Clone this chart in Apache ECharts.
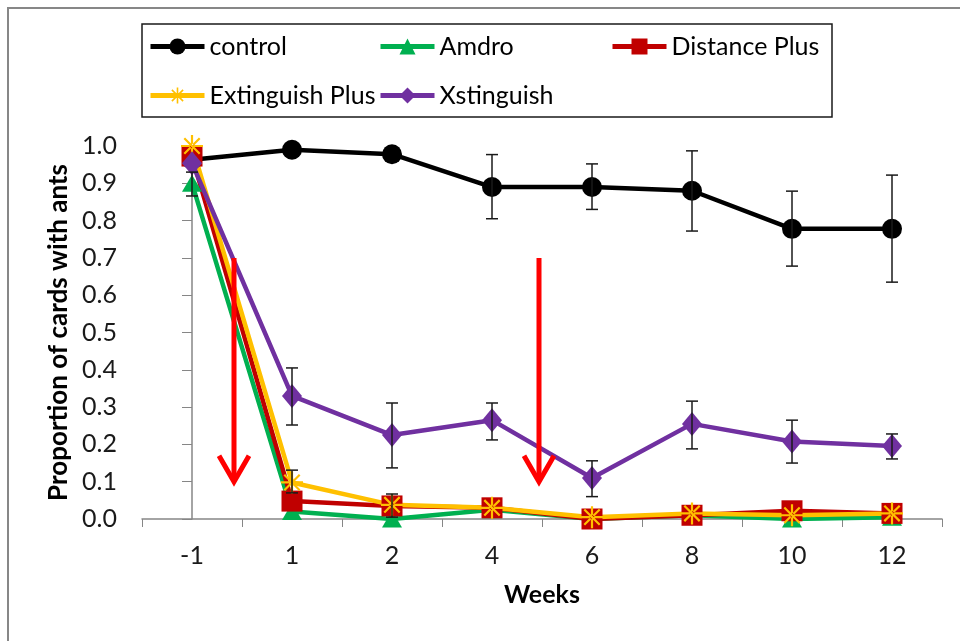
<!DOCTYPE html>
<html>
<head>
<meta charset="utf-8">
<script src="https://cdn.jsdelivr.net/npm/echarts@6/dist/echarts.min.js"></script>
<style>
html, body { margin: 0; padding: 0; background: #fff; }
#chart { width: 960px; height: 641px; }
</style>
</head>
<body>
<div id="chart"></div>
<script>
// weeks after treatment (categories)
var weeks = ['-1', '1', '2', '4', '6', '8', '10', '12'];

// proportion of cards with ants
var control = [0.963, 0.99, 0.978, 0.89, 0.89, 0.88, 0.778, 0.778];
var amdro = [0.90, 0.02, 0.0, 0.025, 0.0, 0.01, 0.0, 0.005];
var distancePlus = [0.973, 0.048, 0.035, 0.03, 0.0, 0.01, 0.022, 0.015];
var extinguishPlus = [1.0, 0.098, 0.038, 0.03, 0.005, 0.015, 0.01, 0.015];
var xstinguish = [0.954, 0.33, 0.225, 0.265, 0.11, 0.255, 0.208, 0.196];

// error bars: [category index, low, high]
var controlErr = [[3, 0.805, 0.977], [4, 0.83, 0.952], [5, 0.772, 0.987], [6, 0.678, 0.879], [7, 0.635, 0.922]];
var xstinguishErr = [[1, 0.252, 0.405], [2, 0.137, 0.311], [3, 0.212, 0.311], [4, 0.06, 0.156], [5, 0.188, 0.316], [6, 0.15, 0.265], [7, 0.161, 0.228]];
var amdroErr = [[0, 0.866, 0.93]];
var extinguishErr = [[1, 0.07, 0.131], [2, 0.005, 0.067]];

// treatment arrows: [x position in category units, top, tip]
var arrows = [[0.42, 0.70, 0.10], [3.47, 0.70, 0.10]];

var FONT = 'Lato';
var asterisk = 'path://M-1,-10L1,-10L1,10L-1,10Z M-10,-1L10,-1L10,1L-10,1Z ' +
    'M-6.3,-7.7L7.7,6.3L6.3,7.7L-7.7,-6.3Z M-6.3,7.7L7.7,-6.3L6.3,-7.7L-7.7,6.3Z';

function errorBar(params, api) {
    var x = api.value(0);
    var lo = api.coord([x, api.value(1)]);
    var hi = api.coord([x, api.value(2)]);
    var w = 6;
    var style = { stroke: '#1a1a1a', lineWidth: 1.5 };
    return {
        type: 'group',
        children: [
            { type: 'line', shape: { x1: hi[0], y1: hi[1], x2: lo[0], y2: lo[1] }, style: style },
            { type: 'line', shape: { x1: hi[0] - w, y1: hi[1], x2: hi[0] + w, y2: hi[1] }, style: style },
            { type: 'line', shape: { x1: lo[0] - w, y1: lo[1], x2: lo[0] + w, y2: lo[1] }, style: style }
        ]
    };
}

function arrow(params, api) {
    var top = api.coord([api.value(0), api.value(1)]);
    var tip = api.coord([api.value(0), api.value(2)]);
    return {
        type: 'group',
        children: [
            {
                type: 'line',
                shape: { x1: top[0], y1: top[1], x2: tip[0], y2: tip[1] - 4 },
                style: { stroke: '#ff0000', lineWidth: 5 }
            },
            {
                type: 'polyline',
                shape: { points: [[tip[0] - 15, tip[1] - 26], [tip[0], tip[1]], [tip[0] + 15, tip[1] - 26]] },
                style: { stroke: '#ff0000', lineWidth: 5, fill: null, lineJoin: 'miter' }
            }
        ]
    };
}

function lineSeries(name, data, color, symbol, size) {
    return {
        name: name,
        type: 'line',
        data: data,
        symbol: symbol,
        symbolSize: size,
        showAllSymbol: true,
        lineStyle: { color: color, width: 4.5 },
        itemStyle: { color: color },
        z: 3
    };
}

function errSeries(data) {
    return {
        type: 'custom',
        renderItem: errorBar,
        data: data,
        encode: { x: 0, y: [1, 2] },
        silent: true,
        z: 4
    };
}

function legendAt(name, left, top) {
    return {
        data: [name],
        left: left,
        top: top,
        padding: 0,
        itemWidth: 54,
        itemHeight: 20,
        lineStyle: { width: 5 },
        textStyle: { fontFamily: FONT, fontSize: 25, color: '#000', padding: [0, 0, 0, 0] }
    };
}

var chart = echarts.init(document.getElementById('chart'));

var option = {
    backgroundColor: '#fff',
    animation: false,
    graphic: [
        { type: 'rect', z: -10, shape: { x: 8, y: 8, width: 1000, height: 1000 }, style: { fill: null, stroke: '#878787', lineWidth: 2 } },
        { type: 'rect', z: -10, shape: { x: 142, y: 24, width: 690, height: 93 }, style: { fill: null, stroke: '#1a1a1a', lineWidth: 1.5 } }
    ],
    legend: [
        legendAt('control', 148, 34),
        legendAt('Amdro', 378, 34),
        legendAt('Distance Plus', 610, 34),
        legendAt('Extinguish Plus', 148, 83),
        legendAt('Xstinguish', 378, 83)
    ],
    grid: { left: 142, right: 18, top: 146, bottom: 122 },
    xAxis: [
        {
            type: 'category',
            data: weeks,
            boundaryGap: true,
            name: 'Weeks',
            nameLocation: 'middle',
            nameGap: 63,
            nameTextStyle: { fontFamily: FONT, fontSize: 25, fontWeight: 'bold', color: '#000' },
            axisLine: { lineStyle: { color: '#868686', width: 1.5 } },
            axisTick: { show: true, length: 8, lineStyle: { color: '#868686' } },
            axisLabel: { margin: 24, fontFamily: FONT, fontSize: 25, color: '#1a1a1a' },
            splitLine: { show: false }
        },
        {
            type: 'value',
            min: -0.5,
            max: 7.5,
            show: false
        }
    ],
    yAxis: {
        type: 'value',
        min: 0,
        max: 1,
        interval: 0.1,
        name: 'Proportion of cards with ants',
        nameLocation: 'middle',
        nameGap: 66,
        nameTextStyle: { fontFamily: FONT, fontSize: 26, fontWeight: 'bold', color: '#000' },
        axisLine: { show: true, lineStyle: { color: '#868686', width: 1.5 } },
        axisTick: { show: true, length: 10, lineStyle: { color: '#868686' } },
        axisLabel: {
            margin: 25,
            fontFamily: FONT,
            fontSize: 25,
            color: '#1a1a1a',
            formatter: function (v) { return v.toFixed(1); }
        },
        splitLine: { show: false }
    },
    series: [
        lineSeries('control', control, '#000000', 'circle', 20),
        lineSeries('Amdro', amdro, '#00b050', 'triangle', [20, 17]),
        lineSeries('Distance Plus', distancePlus, '#c00000', 'rect', 21),
        lineSeries('Extinguish Plus', extinguishPlus, '#ffc000', asterisk, 22),
        lineSeries('Xstinguish', xstinguish, '#7030a0', 'diamond', [20, 24]),
        errSeries(controlErr),
        errSeries(xstinguishErr),
        errSeries(amdroErr),
        errSeries(extinguishErr),
        {
            type: 'custom',
            xAxisIndex: 1,
            renderItem: arrow,
            data: arrows,
            encode: { x: 0, y: [1, 2] },
            silent: true,
            z: 5
        }
    ]
};

chart.setOption(option);
window.addEventListener('resize', function () { chart.resize(); });
</script>
</body>
</html>
